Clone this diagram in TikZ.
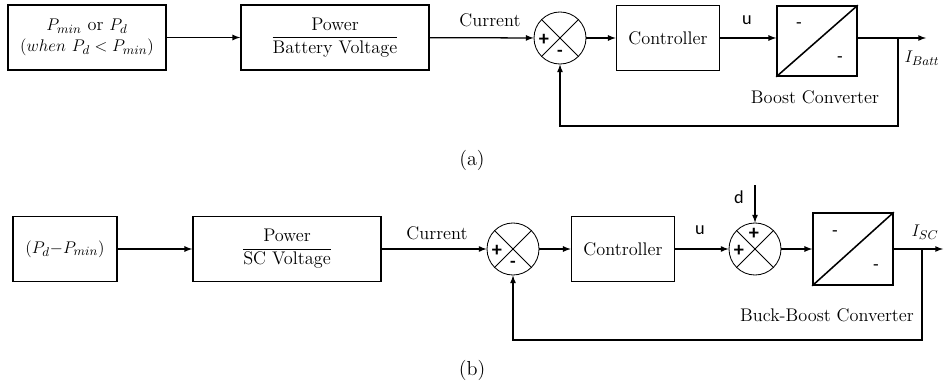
\documentclass[tikz,border=0pt]{standalone}
\usepackage{fontspec}
\usepackage{amsmath}
\usetikzlibrary{arrows,positioning,calc,shapes}
\newfontfamily\calib{Carlito}

\begin{document}
\begin{tikzpicture}[x=0.025cm, y=-0.025cm, font=\fontsize{13}{15}\selectfont,
    block/.style={draw, line width=1.1pt, minimum height=1.625cm, align=center, inner sep=2pt},
    sumnode/.style={circle, draw, line width=0.6pt, minimum size=1.3cm},
    conv/.style={draw, line width=1.1pt, minimum width=2cm, minimum height=1.75cm},
    link/.style={line width=0.9pt, -latex}]
      \useasboundingbox (0,0) rectangle (944,387);
      %nodes (a)
      \node[block, minimum width=3.95cm] (ina) at (87, 37.5) {$P_{min}$ or $P_d$\\$(when\ P_d < P_{min})$};
      \node[block, minimum width=4.7cm] (pwa) at (335, 37.5) {$\dfrac{\text{Power}}{\text{Battery Voltage}}$};
      \node[sumnode] (sa) at (560, 38) {};
      \draw[line width=0.6pt] (sa.45) -- (sa.225) (sa.135) -- (sa.315);
      \node at ($(sa)+(-16,2)$) {\calib\Large\textbf{+}};
      \node at ($(sa)+(0,15)$) {\calib\textbf{-}};
      \node[block, minimum width=2.575cm] (cta) at (668, 38) {Controller};
      \node[conv] (cva) at (817, 41) {};
      \draw[line width=1.1pt] (cva.south west) -- (cva.north east);
      \node at ($(cva)+(-18,-15)$) {\calib -};
      \node at ($(cva)+(23,19)$) {\calib -};
      \coordinate (ba) at (898, 38);
      \coordinate (oa) at (926, 38);
      \node at (490, 20) {Current};
      \node at (747, 20) {\calib u};
      \node at (922, 58) {$I_{Batt}$};
      \node at (815, 97) {Boost Converter};
      \node at (472, 160) {\Large (a)};
      %edges (a)
      \draw[link] (ina) -- (pwa);
      \draw[link] (pwa) -- (sa);
      \draw[link] (sa) -- (cta);
      \draw[link] (cta) -- (cta -| cva.west);
      \draw[link] (cta -| cva.east) -- (oa);
      \draw[link] (ba) -- (898, 126) -| (sa.south);
      %nodes (b)
      \node[block, minimum width=2.6cm] (inb) at (65, 249) {$(P_d{-}P_{min})$};
      \node[block, minimum width=4.7cm] (pwb) at (287, 249) {$\dfrac{\text{Power}}{\text{SC Voltage}}$};
      \node[sumnode] (sb) at (513, 249) {};
      \draw[line width=0.6pt] (sb.45) -- (sb.225) (sb.135) -- (sb.315);
      \node at ($(sb)+(-16,2)$) {\calib\Large\textbf{+}};
      \node at ($(sb)+(0,15)$) {\calib\textbf{-}};
      \node[block, minimum width=2.575cm] (ctb) at (623, 249) {Controller};
      \node[sumnode] (sd) at (755, 249) {};
      \draw[line width=0.6pt] (sd.45) -- (sd.225) (sd.135) -- (sd.315);
      \node at ($(sd)+(-16,2)$) {\calib\Large\textbf{+}};
      \node at ($(sd)+(-1,-15)$) {\calib\Large\textbf{+}};
      \node[conv, minimum height=1.8cm] (cvb) at (853, 249) {};
      \draw[line width=1.1pt] (cvb.south west) -- (cvb.north east);
      \node at ($(cvb)+(-18,-15)$) {\calib -};
      \node at ($(cvb)+(23,19)$) {\calib -};
      \coordinate (bb) at (922, 249);
      \coordinate (ob) at (943, 249);
      \coordinate (dt) at (755, 185);
      \node at (437, 233) {Current};
      \node at (700, 230) {\calib u};
      \node at (739, 197) {\calib d};
      \node at (925, 232) {$I_{SC}$};
      \node at (827, 315) {Buck-Boost Converter};
      \node at (472, 370) {\Large (b)};
      %edges (b)
      \draw[link] (inb) -- (pwb);
      \draw[link] (pwb) -- (sb);
      \draw[link] (sb) -- (ctb);
      \draw[link] (ctb) -- (sd);
      \draw[link] (dt) -- (sd.north);
      \draw[link] (sd) -- (cvb);
      \draw[link] (cvb) -- (ob);
      \draw[link] (bb) -- (922, 340) -| (sb.south);
    \end{tikzpicture}
\end{document}
